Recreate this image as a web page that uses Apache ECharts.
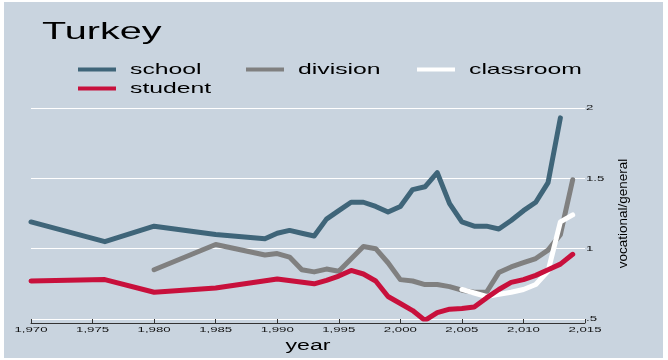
<!DOCTYPE html>
<html>
<head>
<meta charset="utf-8">
<script src="https://cdn.jsdelivr.net/npm/echarts@6/dist/echarts.min.js"></script>
<style>
  body { margin: 0; background: #fff; }
  #panel { position: absolute; left: 4px; top: 2px; width: 659px; height: 356px; background: #c9d4df; }
  #chart { position: absolute; left: 0; top: 0; width: 668px; height: 360px; }
</style>
</head>
<body>
<div id="panel"></div>
<div id="chart"></div>
<script>
// the source image has wide, stretched lettering; stretch horizontal text the same way
const STRETCH = 1.65
const baseFillText = CanvasRenderingContext2D.prototype.fillText
CanvasRenderingContext2D.prototype.fillText = function (text, x, y) {
  const m = this.getTransform()
  if (Math.abs(m.b) > 1e-6) return baseFillText.call(this, text, x, y) // rotated title stays as is
  this.save()
  this.translate(x, y)
  this.scale(STRETCH, 1)
  baseFillText.call(this, text, 0, 0)
  this.restore()
}

const xTicks = [1970, 1975, 1980, 1985, 1990, 1995, 2000, 2005, 2010, 2015]
const yTicks = [0.5, 1, 1.5, 2]

const schoolYears = [1970, 1976, 1980, 1985, 1989, 1990, 1991, 1992, 1993, 1994, 1995, 1996, 1997, 1998, 1999,
  2000, 2001, 2002, 2003, 2004, 2005, 2006, 2007, 2008, 2009, 2010, 2011, 2012, 2013]
const schoolValues = [1.19, 1.05, 1.16, 1.10, 1.07, 1.11, 1.13, 1.11, 1.09, 1.21, 1.27, 1.33, 1.33, 1.30, 1.26,
  1.30, 1.42, 1.44, 1.54, 1.32, 1.19, 1.16, 1.16, 1.14, 1.20, 1.27, 1.33, 1.47, 1.93]

const divisionYears = [1980, 1985, 1989, 1990, 1991, 1992, 1993, 1994, 1995, 1997, 1998, 1999,
  2000, 2001, 2002, 2003, 2004, 2005, 2006, 2007, 2008, 2009, 2010, 2011, 2012, 2013, 2014]
const divisionValues = [0.85, 1.03, 0.955, 0.965, 0.94, 0.85, 0.835, 0.855, 0.84, 1.015, 1.0, 0.90,
  0.78, 0.77, 0.745, 0.745, 0.73, 0.705, 0.69, 0.69, 0.83, 0.87, 0.90, 0.93, 0.99, 1.10, 1.49]

const classroomYears = [2005, 2006, 2007, 2008, 2009, 2010, 2011, 2012, 2013, 2014]
const classroomValues = [0.71, 0.685, 0.66, 0.675, 0.69, 0.71, 0.745, 0.84, 1.19, 1.24]

const studentYears = [1970, 1976, 1980, 1985, 1990, 1993, 1994, 1995, 1996, 1997, 1998, 1999,
  2000, 2001, 2002, 2003, 2004, 2005, 2006, 2007, 2008, 2009, 2010, 2011, 2012, 2013, 2014]
const studentValues = [0.77, 0.78, 0.69, 0.72, 0.785, 0.75, 0.775, 0.805, 0.845, 0.82, 0.77, 0.66,
  0.61, 0.56, 0.49, 0.545, 0.57, 0.575, 0.585, 0.65, 0.71, 0.76, 0.78, 0.81, 0.85, 0.89, 0.96]

const pairs = (xs, ys) => xs.map((x, i) => [x, ys[i]])

const font = 'Liberation Sans'
const colors = { school: '#3f6579', division: '#808080', classroom: '#ffffff', student: '#c8103c' }

function legendItem(name, left, top) {
  return {
    data: [name],
    left: left,
    top: top,
    padding: 0,
    icon: 'rect',
    itemWidth: 38,
    itemHeight: 4,
    selectedMode: false,
    textStyle: { fontFamily: font, fontSize: 15, color: '#000', padding: [0, 0, 0, 9] },
  }
}

function makeSeries(name, xs, ys) {
  return {
    name: name,
    type: 'line',
    data: pairs(xs, ys),
    showSymbol: false,
    color: colors[name],
    lineStyle: { width: 5, color: colors[name], cap: 'round', join: 'round' },
  }
}

const chart = echarts.init(document.getElementById('chart'))
chart.setOption({
  animation: false,
  backgroundColor: 'transparent',
  title: {
    text: 'Turkey',
    left: 42,
    top: 20,
    padding: 0,
    textStyle: { fontFamily: font, fontSize: 24, fontWeight: 'normal', color: '#000' },
  },
  legend: [
    legendItem('school', 78, 62),
    legendItem('division', 246, 62),
    legendItem('classroom', 417, 62),
    legendItem('student', 78, 81),
  ],
  grid: { left: 31, right: 83, top: 108, bottom: 41 },
  xAxis: {
    type: 'value',
    min: xTicks[0],
    max: xTicks[xTicks.length - 1],
    interval: 5,
    offset: 4,
    name: 'year',
    nameLocation: 'middle',
    nameGap: 10,
    nameTextStyle: { fontFamily: font, fontSize: 14, color: '#000' },
    axisLine: { lineStyle: { color: '#333', width: 1 } },
    axisTick: { inside: true, length: 4, lineStyle: { color: '#333' } },
    axisLabel: { fontFamily: font, fontSize: 8, color: '#111', margin: 3 },
    splitLine: { show: false },
  },
  yAxis: {
    type: 'value',
    position: 'right',
    min: yTicks[0],
    max: yTicks[yTicks.length - 1],
    interval: 0.5,
    name: 'vocational/general',
    nameLocation: 'middle',
    nameRotate: 90,
    nameGap: 31,
    nameTextStyle: { fontFamily: font, fontSize: 13.5, color: '#000' },
    axisLine: { show: false },
    axisTick: { show: false },
    axisLabel: {
      fontFamily: font,
      fontSize: 8,
      color: '#111',
      margin: 1,
      formatter: (v) => (v === 0.5 ? '.5' : String(v)),
    },
    splitLine: { lineStyle: { color: '#ffffff', width: 1 } },
  },
  series: [
    makeSeries('school', schoolYears, schoolValues),
    makeSeries('division', divisionYears, divisionValues),
    makeSeries('classroom', classroomYears, classroomValues),
    makeSeries('student', studentYears, studentValues),
  ],
})
</script>
</body>
</html>
